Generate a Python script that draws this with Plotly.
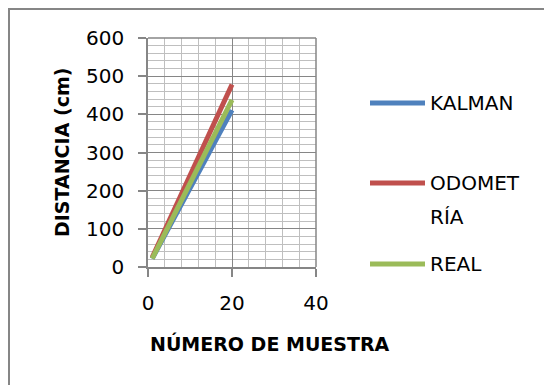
import plotly.graph_objects as go

muestra = list(range(1, 21))
kalman = [22, 42, 63, 83, 104, 124, 145, 165, 186, 206, 227, 247, 268, 288, 309, 329, 350, 370, 391, 411]
odometria = [25, 49, 73, 97, 120, 144, 168, 192, 216, 239, 263, 287, 311, 335, 358, 382, 406, 430, 454, 478]
real = [22, 44, 66, 88, 110, 131, 153, 175, 197, 219, 241, 263, 285, 307, 329, 350, 372, 394, 416, 438]

series_names = ["KALMAN", "ODOMETRÍA", "REAL"]
series_colors = ["#4F81BD", "#C0504D", "#9BBB59"]
series_values = [kalman, odometria, real]

OFF = 8  # page body margin offset
W, H = 552 - OFF, 385 - OFF
L, R, T, B = 148, 316, 38, 267  # plot area pixel bounds in page coordinates


def px(x):
    return (x - L) / (R - L)


def py(y):
    return (B - y) / (B - T)


FONT = "DejaVu Sans"
fig = go.Figure()
for name, col, vals in zip(series_names, series_colors, series_values):
    fig.add_trace(go.Scatter(x=muestra, y=vals, mode="lines", name=name,
                             line=dict(color=col, width=5), showlegend=False))

axis_common = dict(
    showline=True, linecolor="#868686", linewidth=1.5,
    showgrid=True, gridcolor="#868686", gridwidth=1,
    ticks="outside", ticklen=8, tickcolor="#868686", tickwidth=1.5,
    tickfont=dict(family=FONT, size=20, color="#000000"),
    zeroline=False, mirror=False,
)
fig.update_xaxes(range=[0, 40], dtick=20, tick0=0,
                 minor=dict(dtick=4, showgrid=True, gridcolor="#BFBFBF", gridwidth=1),
                 ticklabelstandoff=9, **axis_common)
fig.update_yaxes(range=[0, 600], dtick=100, tick0=0,
                 minor=dict(dtick=20, showgrid=True, gridcolor="#BFBFBF", gridwidth=1),
                 ticklabelstandoff=10, **axis_common)

shapes = [
    dict(type="rect", xref="paper", yref="paper", x0=px(9), x1=px(570), y0=py(400), y1=py(9),
         line=dict(color="#868686", width=2), fillcolor="rgba(0,0,0,0)", layer="below"),
    dict(type="line", xref="paper", yref="paper", x0=1, x1=1, y0=0, y1=1,
         line=dict(color="#868686", width=1.5)),
    dict(type="line", xref="paper", yref="paper", x0=0, x1=1, y0=1, y1=1,
         line=dict(color="#868686", width=1.5)),
]
annotations = [
    dict(text="<b>NÚMERO DE MUESTRA</b>", xref="paper", yref="paper", x=px(270), y=py(343),
         xanchor="center", yanchor="middle", showarrow=False,
         font=dict(family=FONT, size=19, color="#000000")),
    dict(text="<b>DISTANCIA (cm)</b>", xref="paper", yref="paper", x=px(62), y=py(153),
         xanchor="center", yanchor="middle", showarrow=False, textangle=-90,
         font=dict(family=FONT, size=19, color="#000000")),
]

legend_rows = [(103, ["KALMAN"]), (183, ["ODOMET", "RÍA"]), (264, ["REAL"])]
for (ly, texts), col in zip(legend_rows, series_colors):
    shapes.append(dict(type="line", xref="paper", yref="paper", x0=px(370), x1=px(425),
                       y0=py(ly), y1=py(ly), line=dict(color=col, width=5)))
    for i, t in enumerate(texts):
        annotations.append(dict(text=t, xref="paper", yref="paper", x=px(428), y=py(ly + 34 * i),
                                xanchor="left", yanchor="middle", showarrow=False,
                                font=dict(family=FONT, size=20, color="#000000")))

fig.update_layout(
    width=W, height=H,
    margin=dict(l=L - OFF, r=W - (R - OFF), t=T - OFF, b=H - (B - OFF)),
    paper_bgcolor="#FFFFFF", plot_bgcolor="#FFFFFF",
    shapes=shapes, annotations=annotations,
    showlegend=False,
)
fig.write_html("out.html")
